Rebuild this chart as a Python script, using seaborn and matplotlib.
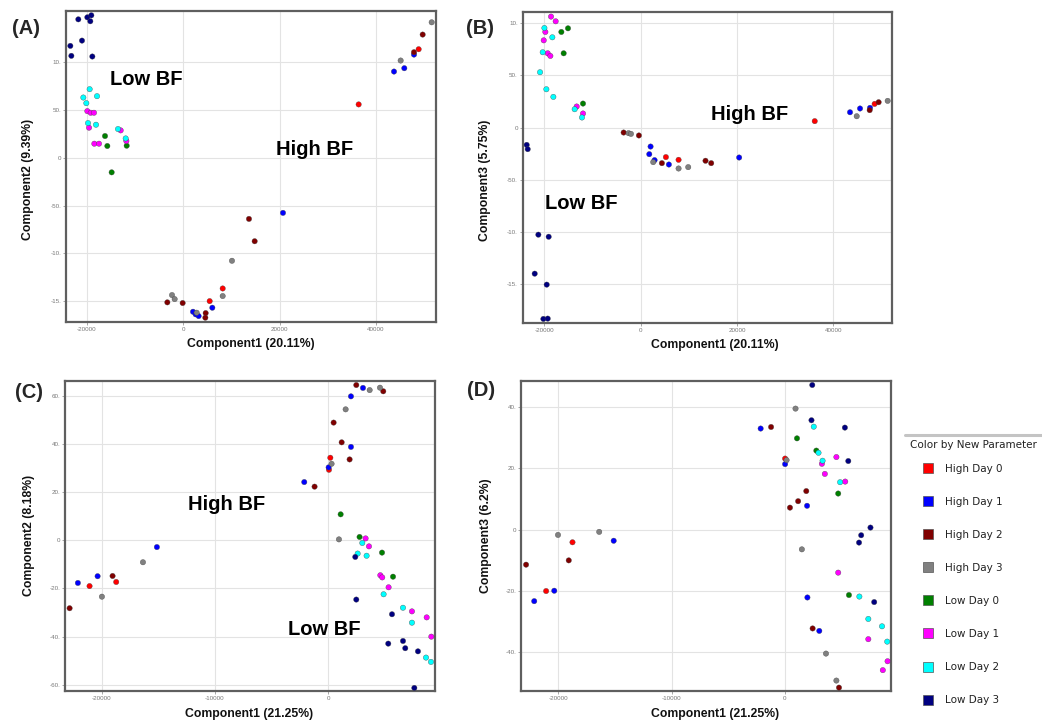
import matplotlib
matplotlib.use("Agg")
import matplotlib.pyplot as plt
import seaborn as sns
import pandas as pd
from matplotlib.lines import Line2D

# ---------------- data ----------------
groups = ["High Day 0", "High Day 1", "High Day 2", "High Day 3",
          "Low Day 0", "Low Day 1", "Low Day 2", "Low Day 3"]
colors = ["#ff0000", "#0000ff", "#800000", "#808080",
          "#008000", "#ff00ff", "#00ffff", "#000080"]

# Panel A : Component1 (20.11%) vs Component2 (9.39%)
A_counts = [4, 8, 8, 7, 4, 8, 8, 8]
A_x = [36400, 48860, 8170, 5470,
       43740, 45880, 47890, 20690, 6020, 2010, 2560, 3180,
       49690, 47890, 13630, 14810, -3320, -140, 4640, 4570,
       51560, 45120, 10100, 8170, -2350, -1800, 2770,
       -16260, -15780, -11760, -14880,
       -19930, -19240, -18550, -19580, -18480, -17510, -13010, -11830,
       -19450, -20760, -20140, -17920, -19790, -18130, -13560, -11970,
       -21800, -19930, -19100, -19310, -23460, -21040, -23250, -18890]
A_y = [55.6, 113.2, -136.5, -149.7,
       89.9, 93.4, 107.6, -57.6, -156.6, -160.8, -163.5, -165.3,
       128.5, 110.1, -63.9, -87.2, -151.0, -151.7, -162.2, -167.0,
       141.3, 101.4, -107.6, -144.4, -143.4, -147.6, -161.8,
       22.6, 12.2, 12.5, -15.3,
       48.6, 46.9, 46.9, 31.3, 14.6, 14.6, 28.5, 17.4,
       71.5, 62.8, 56.9, 64.2, 36.1, 34.4, 29.9, 20.1,
       144.4, 146.5, 148.6, 142.4, 116.7, 122.2, 106.3, 105.6]

# Panel B : Component1 (20.11%) vs Component3 (5.75%)
B_counts = [4, 8, 7, 7, 4, 8, 8, 8]
B_x = [5250, 7880, 36130, 48560,
       2070, 1800, 2900, 5870, 20450, 43450, 45530, 47600,
       -3520, -350, 4420, 13470, 14650, 47530, 49390,
       -2490, -2000, 2620, 7880, 9880, 44840, 51260,
       -15060, -16440, -15960, -11950,
       -18580, -17620, -19760, -20100, -19270, -18720, -13260, -11950,
       -19960, -18310, -20310, -20860, -19550, -18100, -13680, -12160,
       -23630, -23420, -21210, -19070, -21970, -19480, -20170, -19270]
B_y = [-28.3, -30.9, 6.1, 22.6,
       -18.2, -25.5, -31.2, -35.4, -28.7, 14.6, 18.2, 18.8,
       -4.8, -7.6, -34.1, -31.8, -34.1, 16.6, 24.2,
       -5.4, -6.1, -33.1, -39.2, -37.9, 10.8, 25.5,
       94.9, 91.4, 71.0, 22.9,
       106.1, 101.6, 91.4, 83.4, 71.0, 68.5, 20.1, 13.4,
       95.2, 86.3, 72.0, 52.9, 36.6, 29.3, 17.5, 9.6,
       -16.6, -20.7, -102.5, -104.5, -139.8, -150.3, -183.1, -182.8]

# Panel C : Component1 (21.25%) vs Component2 (8.18%)
C_counts = [4, 8, 8, 7, 4, 8, 8, 8]
C_x = [-21060, -18710, 180, 60,
       -22090, -20350, -15120, -2120, 30, 2000, 2000, 3060,
       -22820, -19030, -1210, 470, 1180, 1880, 2470, 4850,
       -19970, -16350, 290, 940, 1530, 3650, 4560,
       1090, 2760, 4740, 5710,
       3290, 3590, 4590, 4760, 5320, 7380, 8680, 9090,
       3000, 2590, 3380, 4880, 6590, 7380, 8620, 9060,
       2380, 2470, 5620, 5290, 6590, 6790, 7910, 7590]
C_y = [-19.0, -17.3, 34.3, 29.3,
       -17.7, -14.9, -2.8, 24.2, 30.3, 38.8, 59.8, 63.3,
       -28.2, -14.8, 22.3, 48.9, 40.7, 33.6, 64.5, 61.9,
       -23.4, -9.1, 31.8, 0.4, 54.4, 62.4, 63.4,
       10.8, 1.4, -5.1, -15.1,
       0.8, -2.5, -14.5, -15.4, -19.5, -29.5, -32.0, -40.0,
       -1.1, -5.5, -6.4, -22.4, -28.0, -34.2, -48.7, -50.5,
       -6.9, -24.6, -30.7, -42.9, -41.8, -44.8, -46.1, -61.3]

# Panel D : Component1 (21.25%) vs Component3 (6.2%)
D_counts = [3, 8, 8, 7, 4, 8, 8, 8]
D_x = [-21080, -18750, 30,
       -22130, -20360, -15110, -2130, 30, 1970, 2000, 3050,
       -22850, -19080, -1210, 460, 1180, 1900, 2460, 4790,
       -20030, -16390, 160, 950, 1510, 3640, 4560,
       1080, 2790, 4720, 5670,
       4560, 3280, 3540, 5340, 4720, 7380, 9080, 8660,
       2560, 2980, 3340, 4890, 6590, 7380, 8590, 9050,
       2430, 2360, 5310, 5610, 7570, 6750, 6560, 7900]
D_y = [-20.0, -4.1, 23.2,
       -23.3, -19.9, -3.6, 33.0, 21.4, 7.8, -22.1, -33.0,
       -11.4, -10.0, 33.5, 7.2, 9.3, 12.6, -32.2, -51.5,
       -1.7, -0.7, 22.7, 39.5, -6.4, -40.4, -49.2,
       29.8, 25.8, 11.8, -21.3,
       23.7, 21.5, 18.2, 15.7, -14.0, -35.7, -42.9, -45.8,
       33.6, 25.1, 22.5, 15.5, -21.8, -29.1, -31.5, -36.5,
       47.2, 35.7, 33.3, 22.4, 0.7, -1.8, -4.2, -23.6]

xticks_AB = [-20000, 0, 20000, 40000]
xticklabels_AB = ["-20000", "0", "20000", "40000"]
yticks_AB = [100, 50, 0, -50, -100, -150]
yticklabels_AB = ["10.", "50.", "0", "-50.", "-10.", "-15."]
xticks_CD = [-20000, -10000, 0]
xticklabels_CD = ["-20000", "-10000", "0"]
yticks_C = [60, 40, 20, 0, -20, -40, -60]
yticklabels_C = ["60.", "40.", "20.", "0", "-20.", "-40.", "-60."]
yticks_D = [40, 20, 0, -20, -40]
yticklabels_D = ["40.", "20.", "0", "-20.", "-40."]

# ---------------- style ----------------
sns.set_style("whitegrid")
plt.rcParams['font.family'] = ['Liberation Sans', 'DejaVu Sans']

W, H = 1042, 721
fig = plt.figure(figsize=(W / 100, H / 100), dpi=100)


def px_rect(l, t, r, b):
    return [l / W, 1 - b / H, (r - l) / W, (b - t) / H]


def frame(counts, xs, ys):
    g = []
    for name, n in zip(groups, counts):
        g += [name] * n
    return pd.DataFrame({"x": xs, "y": ys, "group": g})


panels = [
    dict(rect=px_rect(66, 11, 436, 322), df=frame(A_counts, A_x, A_y),
         xlim=(-24360, 52460), ylim=(-171.5, 153.1),
         xt=xticks_AB, xtl=xticklabels_AB, yt=yticks_AB, ytl=yticklabels_AB,
         xlabel="Component1 (20.11%)", ylabel="Component2 (9.39%)",
         xlc=(0.5, -0.05), ylc=(-0.086, 0.457),
         tag="(A)", tagpos=(26, 28),
         notes=[("Low BF", -7600, 82), ("High BF", 27330, 8.3)]),
    dict(rect=px_rect(522.7, 12, 892, 323), df=frame(B_counts, B_x, B_y),
         xlim=(-24460, 52160), ylim=(-187, 110.5),
         xt=xticks_AB, xtl=xticklabels_AB, yt=yticks_AB, ytl=yticklabels_AB,
         xlabel="Component1 (20.11%)", ylabel="Component3 (5.75%)",
         xlc=(0.521, -0.05), ylc=(-0.086, 0.46),
         tag="(B)", tagpos=(480, 28),
         notes=[("High BF", 22660, 12.4), ("Low BF", -12300, -72.3)]),
    dict(rect=px_rect(65.3, 380.7, 435.3, 691.3), df=frame(C_counts, C_x, C_y),
         xlim=(-23200, 9440), ylim=(-62.7, 66.3),
         xt=xticks_CD, xtl=xticklabels_CD, yt=yticks_C, ytl=yticklabels_C,
         xlabel="Component1 (21.25%)", ylabel="Component2 (8.18%)",
         xlc=(0.496, -0.055), ylc=(-0.082, 0.503),
         tag="(C)", tagpos=(28.5, 392),
         notes=[("High BF", -8970, 14.7), ("Low BF", -380, -37.0)]),
    dict(rect=px_rect(521.2, 380.7, 891.3, 691.3), df=frame(D_counts, D_x, D_y),
         xlim=(-23280, 9410), ylim=(-52.7, 48.6),
         xt=xticks_CD, xtl=xticklabels_CD, yt=yticks_D, ytl=yticklabels_D,
         xlabel="Component1 (21.25%)", ylabel="Component3 (6.2%)",
         xlc=(0.524, -0.055), ylc=(-0.080, 0.50),
         tag="(D)", tagpos=(481.5, 391),
         notes=[]),
]

for p in panels:
    ax = fig.add_axes(p["rect"])
    sns.scatterplot(data=p["df"], x="x", y="y", hue="group", hue_order=groups,
                    palette=colors, s=15, linewidth=0.25, edgecolor="#444444",
                    legend=False, ax=ax, zorder=3)
    ax.set_xlim(*p["xlim"])
    ax.set_ylim(*p["ylim"])
    ax.set_xticks(p["xt"])
    ax.set_xticklabels(p["xtl"])
    ax.set_yticks(p["yt"])
    ax.set_yticklabels(p["ytl"])
    ax.tick_params(axis="both", labelsize=4.5, labelcolor="#777777",
                   length=2, width=0.6, color="#999999", pad=1.5,
                   left=True, bottom=True)
    ax.grid(True, color="#e3e3e3", linewidth=0.8)
    for s in ax.spines.values():
        s.set_color("#5f5f5f")
        s.set_linewidth(1.6)
    ax.set_xlabel(p["xlabel"], fontsize=8.8, fontweight="bold", color="#111111")
    ax.set_ylabel(p["ylabel"], fontsize=8.8, fontweight="bold", color="#111111")
    ax.xaxis.set_label_coords(*p["xlc"])
    ax.yaxis.set_label_coords(*p["ylc"])
    for txt, x, y in p["notes"]:
        ax.text(x, y, txt, fontsize=14.5, fontweight="bold", color="black",
                ha="center", va="center", zorder=5)
    fig.text(p["tagpos"][0] / W, 1 - p["tagpos"][1] / H, p["tag"],
             fontsize=14.5, fontweight="bold", ha="center", va="center")

# ---------------- legend ----------------
fig.add_artist(Line2D([905 / W, 1.0], [1 - 435 / H, 1 - 435 / H],
                      color="#c4c4c4", linewidth=2.2))
fig.text(910 / W, 1 - 445 / H, "Color by New Parameter",
         fontsize=7.5, family="DejaVu Sans", color="#222222",
         ha="left", va="center")
handles = [Line2D([], [], linestyle="none", marker="s", markersize=7.2,
                  markerfacecolor=c, markeredgecolor="#555555",
                  markeredgewidth=0.5) for c in colors]
fig.legend(handles, groups, loc="upper left",
           bbox_to_anchor=(923.1 / W, 1 - 463.5 / H),
           frameon=False, borderaxespad=0, borderpad=0,
           handlelength=1.0, handletextpad=1.1, labelspacing=2.22,
           prop={"family": "DejaVu Sans", "size": 7.5}, labelcolor="#222222")

fig.savefig("out.png", dpi=100)
